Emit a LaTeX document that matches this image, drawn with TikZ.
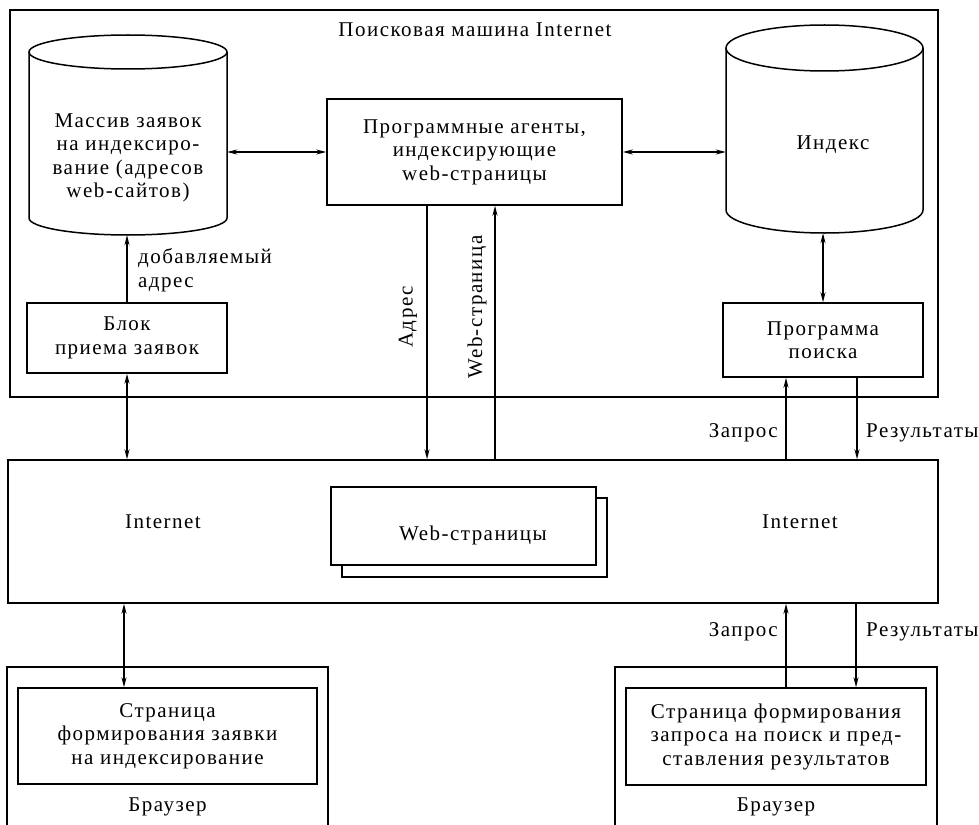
\documentclass[tikz,border=0pt]{standalone}
\usepackage{fontspec}
\setmainfont{Liberation Serif}[LetterSpace=7]
\usetikzlibrary{arrows.meta}
\begin{document}
\begin{tikzpicture}[x=1pt,y=-1pt,
  box/.style={draw, line width=1.5pt, inner sep=0pt},
  txt/.style={align=center, font=\fontsize{21}{23.5}\selectfont},
  lbl/.style={font=\fontsize{21}{23.5}\selectfont, inner sep=0pt},
  conn/.style={line width=1.4pt, -{Stealth[length=10pt,width=5pt]}},
  dconn/.style={line width=1.4pt, {Stealth[length=10pt,width=5pt]}-{Stealth[length=10pt,width=5pt]}},
  area/.style={draw=none, inner sep=0pt}]
\useasboundingbox[fill=white] (0,0) rectangle (979,824);

% search engine frame
\draw[line width=1.5pt] (10,10) rectangle (938,397);
\node[lbl] (title) at (475,30) {Поисковая машина Internet};

% storage of indexing requests (cylinder)
\draw[line width=1.5pt] (29,52) -- (29,218)
  arc[start angle=180,end angle=360,x radius=99pt,y radius=17pt] -- (227,52);
\draw[line width=1.5pt] (128,52) ellipse[x radius=99pt,y radius=17pt];
\node[area, minimum width=198pt, minimum height=200pt] (massiv) at (128,135) {};
\node[txt] (massivtxt) at (128,158) {Массив заявок\\на индексиро-\\вание (адресов\\web-сайтов)};

% index (cylinder)
\draw[line width=1.5pt] (726,48) -- (726,210)
  arc[start angle=180,end angle=360,x radius=98.5pt,y radius=23pt] -- (923,48);
\draw[line width=1.5pt] (824.5,48) ellipse[x radius=98.5pt,y radius=23pt];
\node[area, minimum width=197pt, minimum height=208pt] (index) at (824.5,129) {};
\node[txt] (indextxt) at (833,145) {Индекс};

% indexing agents
\node[box, txt, minimum width=295pt, minimum height=106pt] (agents) at (474.5,152)
  {Программные агенты,\\индексирующие\\web-страницы};

% request intake block
\node[box, txt, minimum width=200pt, minimum height=70pt] (blok) at (127,338)
  {Блок\\приема заявок};

% search program
\node[box, txt, minimum width=200pt, minimum height=74pt] (poisk) at (823,340)
  {Программа\\поиска};

% Internet
\node[box, minimum width=930pt, minimum height=143pt] (inet) at (473,531.5) {};
\node[lbl] (inetL) at (163,522) {Internet};
\node[lbl] (inetR) at (800,522) {Internet};
\node[box, fill=white, minimum width=265pt, minimum height=79pt] (pagesback) at (474.5,537.5) {};
\node[box, fill=white, minimum width=265pt, minimum height=78pt] (pages) at (463.5,526) {};
\node[lbl] (pagestxt) at (473,535) {Web-страницы};

% browsers
\draw[line width=1.5pt] (7,830) -- (7,667) -- (328,667) -- (328,830);
\node[box, txt, minimum width=299pt, minimum height=96pt] (formL) at (167.5,736)
  {Страница\\формирования заявки\\на индексирование};
\node[lbl] (browserL) at (167.5,807) {Браузер};

\draw[line width=1.5pt] (615,830) -- (615,667) -- (937,667) -- (937,830);
\node[box, txt, minimum width=300pt, minimum height=97pt] (formR) at (776,736.5)
  {Страница формирования\\запроса на поиск и пред-\\ставления результатов};
\node[lbl] (browserR) at (776,807) {Браузер};

% connectors inside the search engine
\draw[dconn] (agents.west) -- (agents.west -| massiv.east);
\draw[dconn] (agents.east) -- (agents.east -| index.west);
\draw[conn] (blok.north) -- (blok.north |- massiv.south);
\node[lbl, anchor=west, align=left] (addlbl) at (138,270) {добавляемый\\адрес};
\draw[dconn] (poisk.north) -- (poisk.north |- index.south);

% crawler traffic
\draw[conn] ([xshift=-47.5pt]agents.south) -- ([xshift=-47.5pt]agents.south |- inet.north);
\draw[conn] ([xshift=20.5pt]agents.south |- inet.north) -- ([xshift=20.5pt]agents.south);
\node[lbl, rotate=90] (adrlbl) at (408,317) {Адрес};
\node[lbl, rotate=90] (weblbl) at (477,307) {Web-страница};

% engine <-> Internet
\draw[dconn] (blok.south) -- (blok.south |- inet.north);
\draw[conn] ([xshift=-37pt]poisk.south |- inet.north) -- ([xshift=-37pt]poisk.south);
\draw[conn] ([xshift=34pt]poisk.south) -- ([xshift=34pt]poisk.south |- inet.north);
\node[lbl, anchor=east] (q1) at (778,433) {Запрос};
\node[lbl, anchor=west] (r1) at (866,433) {Результаты};

% Internet <-> browsers
\draw[dconn] ([xshift=-43.5pt]formL.north |- inet.south) -- ([xshift=-43.5pt]formL.north);
\draw[conn] ([xshift=10pt]formR.north) -- ([xshift=10pt]formR.north |- inet.south);
\draw[conn] ([xshift=80pt]formR.north |- inet.south) -- ([xshift=80pt]formR.north);
\node[lbl, anchor=east] (q2) at (778,632) {Запрос};
\node[lbl, anchor=west] (r2) at (866,632) {Результаты};
\end{tikzpicture}
\end{document}
